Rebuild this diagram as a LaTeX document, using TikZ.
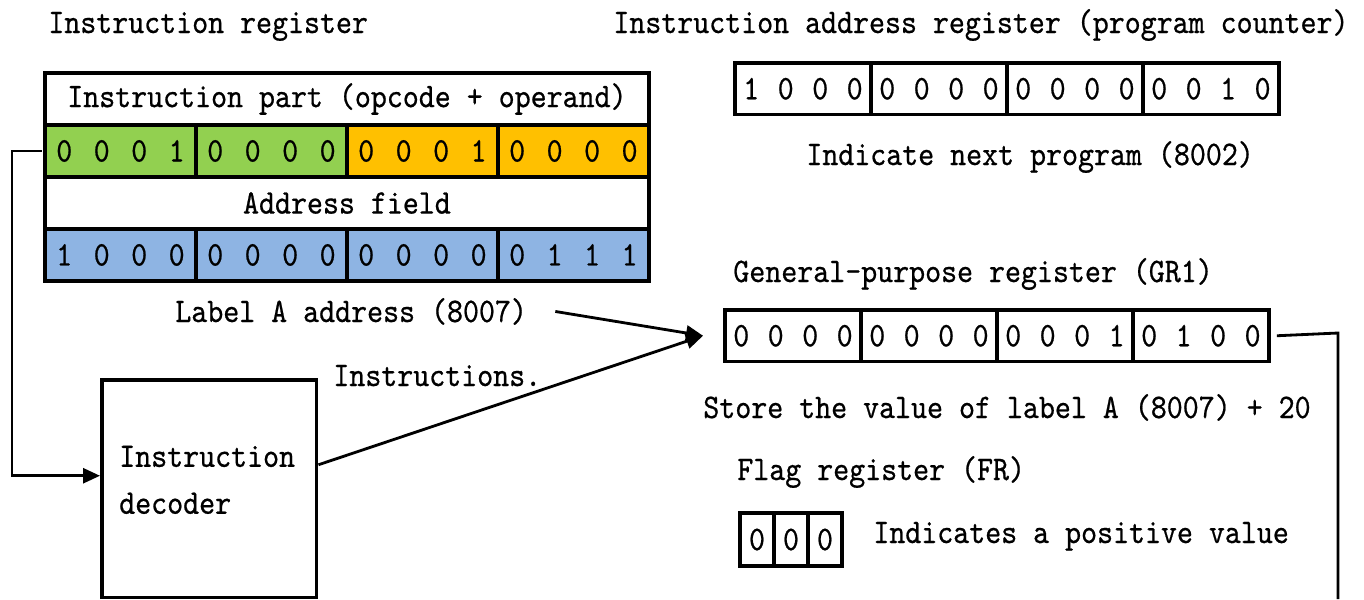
\documentclass[tikz,border=0pt]{standalone}
\usepackage{fontspec}
\setmonofont{lmmono10-regular}[Extension=.otf,FakeStretch=0.884,FakeBold=0.6]
\usetikzlibrary{arrows,arrows.meta,positioning}
\definecolor{opgreen}{HTML}{92D050}
\definecolor{oporange}{HTML}{FFC000}
\definecolor{addrblue}{HTML}{8EB4E3}

\begin{document}
\begin{tikzpicture}[x=0.02cm,y=-0.02cm,font=\ttfamily\fontsize{19.6}{22}\selectfont,
  txt/.style={anchor=base west,inner sep=0},
  wide/.style={shape=rectangle,draw,line width=2pt,inner sep=0,outer sep=0,minimum width=12.08cm,minimum height=1.04cm},
  cell/.style={shape=rectangle,draw,line width=2pt,inner sep=0,outer sep=0,minimum width=2.72cm,minimum height=1.03cm,execute at begin node={\spaceskip=0.37cm\relax}},
  ircell/.style={cell,minimum width=3.02cm,minimum height=1.04cm,execute at begin node={\spaceskip=0.43cm\relax}},
  flagcell/.style={cell,minimum width=0.68cm,minimum height=1.06cm},
  arr/.style={-{Triangle[length=0.34cm,width=0.3cm]},line width=1.6pt}]
\useasboundingbox (0,0) rectangle (1364,599);

% instruction register
\node(irtitle)[txt] at (48,33){Instruction register};
\node(irhead)[wide,anchor=north west] at (45,73){Instruction part (opcode + operand)};
\node(ir1)[ircell,fill=opgreen,anchor=north west] at (irhead.south west){0 0 0 1};
\node(ir2)[ircell,fill=opgreen,right=0pt of ir1]{0 0 0 0};
\node(ir3)[ircell,fill=oporange,right=0pt of ir2]{0 0 0 1};
\node(ir4)[ircell,fill=oporange,right=0pt of ir3]{0 0 0 0};
\node(iaddr)[wide,anchor=north west] at (ir1.south west){Address field};
\node(ia1)[ircell,fill=addrblue,anchor=north west] at (iaddr.south west){1 0 0 0};
\node(ia2)[ircell,fill=addrblue,right=0pt of ia1]{0 0 0 0};
\node(ia3)[ircell,fill=addrblue,right=0pt of ia2]{0 0 0 0};
\node(ia4)[ircell,fill=addrblue,right=0pt of ia3]{0 1 1 1};
\node(labA)[txt] at (175,322){Label A address (8007)};

% decoder
\node(dec)[shape=rectangle,draw,line width=2pt,anchor=north west,minimum width=4.3cm,minimum height=4.36cm,text width=3.6cm,inner xsep=0.35cm,align=left,text depth=36.9pt,font=\ttfamily\fontsize{19.6}{26.7}\selectfont] at (100,378){Instruction\\decoder};
\node(instr)[txt] at (333,386){Instructions.};

% program counter
\node(pctitle)[txt] at (613,33){Instruction address register (program counter)};
\node(pc1)[cell,anchor=north west] at (735,63){1 0 0 0};
\node(pc2)[cell,right=0pt of pc1]{0 0 0 0};
\node(pc3)[cell,right=0pt of pc2]{0 0 0 0};
\node(pc4)[cell,right=0pt of pc3]{0 0 1 0};
\node(pcnote)[txt] at (806,165){Indicate next program (8002)};

% general-purpose register
\node(grtitle)[txt] at (733,282){General-purpose register (GR1)};
\node(gr1)[cell,anchor=north west] at (725,310){0 0 0 0};
\node(gr2)[cell,right=0pt of gr1]{0 0 0 0};
\node(gr3)[cell,right=0pt of gr2]{0 0 0 1};
\node(gr4)[cell,right=0pt of gr3]{0 1 0 0};
\node(grnote)[txt] at (703,418){Store the value of label A (8007) + 20};

% flag register
\node(frtitle)[txt] at (737,480){Flag register (FR)};
\node(fr1)[flagcell,anchor=north west] at (740,513){0};
\node(fr2)[flagcell,right=0pt of fr1]{0};
\node(fr3)[flagcell,right=0pt of fr2]{0};
\node(frnote)[txt] at (873,543){Indicates a positive value};

% connectors
\coordinate(decin) at ([yshift=0.26cm]dec.west);
\coordinate(grin) at ([xshift=-0.44cm]gr1.west);
\coordinate(grbend) at (1338,333);
\coordinate(grout) at (1338,599);
\draw[arr] ([xshift=-0.06cm]ir1.west)--++(-30,0)|-(decin);
\draw[arr] ([xshift=0.56cm]labA.east)--(grin);
\draw[arr] ([yshift=0.48cm]dec.east)--(grin);
\draw[line width=1.6pt] ([xshift=0.16cm]gr4.east)--(grbend)--(grout);
\end{tikzpicture}
\end{document}
